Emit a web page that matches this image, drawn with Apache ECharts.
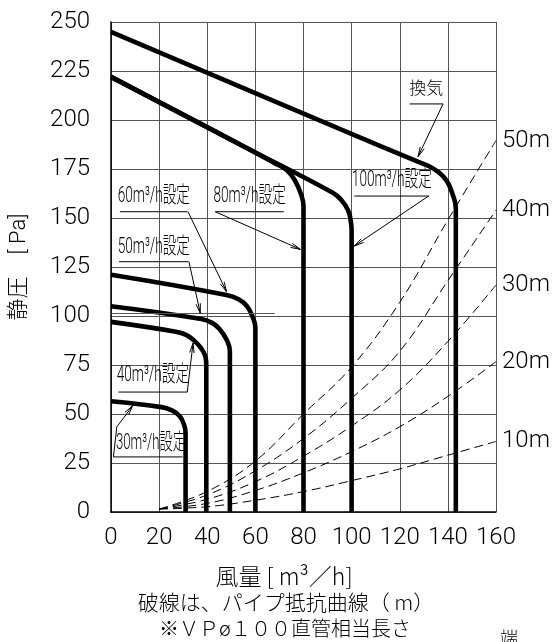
<!DOCTYPE html>
<html>
<head>
<meta charset="utf-8">
<script src="https://cdn.jsdelivr.net/npm/echarts/dist/echarts.min.js"></script>
<style>
html,body{margin:0;padding:0;background:#fff;}
#main{width:553px;height:642px;}
</style>
</head>
<body>
<div id="main"></div>
<script>
// ---------- data ----------
const xTicks = [0, 20, 40, 60, 80, 100, 120, 140, 160];
const yTicks = [0, 25, 50, 75, 100, 125, 150, 175, 200, 225, 250];

// pipe resistance curves (dashed), flow points
const pipeFlow = [20, 40, 60, 80, 100, 120, 140, 160];
const pipeNames = ['10m', '20m', '30m', '40m', '50m'];
const pipe10m = [1.5, 2.7, 6.0, 10.4, 16.0, 22.0, 29.0, 36.0];
const pipe20m = [1.5, 4.4, 11.0, 20.0, 30.8, 43.5, 59.0, 76.7];
const pipe30m = [1.5, 6.5, 15.5, 28.5, 43.9, 62.2, 87.0, 115.8];
const pipe40m = [1.5, 8.7, 21.0, 37.5, 58.0, 82.0, 118.0, 154.0];
const pipe50m = [1.5, 10.5, 26.0, 50.0, 74.0, 107.0, 149.0, 189.5];
const pipeValues = [pipe10m, pipe20m, pipe30m, pipe40m, pipe50m];

// fan curves [flow, static pressure]
const fanVent = [[0,245],[96,195],[127,179],[132,176.5],[136,173.5],[139.5,169],[142,162],[143.3,155],[143.3,0]];
const fan100 = [[0,222],[56,186],[92,163],[95.5,159.5],[98.5,154],[99.8,147],[100,143],[100,0]];
const fan80 = [[0,222],[56,186],[68,178],[73,174.5],[76.5,169],[79,162],[80,156],[80,0]];
const fan60 = [[0,121],[48,110.7],[53,108.5],[56.5,105],[59,99],[60,94],[60,0]];
const fan50 = [[0,105],[37.5,98.5],[42,96.5],[45,93.5],[48,88],[49.4,82],[49.4,0]];
const fan40 = [[0,97],[27,92],[31,90.5],[34.5,87.5],[37.5,83.5],[39.3,79],[39.6,75],[39.6,0]];
const fan30 = [[0,56.5],[21,53.5],[25,52],[28.5,49],[30.5,44],[31,40],[31,0]];
const fanNames = ['換気', '100m³/h設定', '80m³/h設定', '60m³/h設定', '50m³/h設定', '40m³/h設定', '30m³/h設定'];
const fanCurves = [fanVent, fan100, fan80, fan60, fan50, fan40, fan30];

// ---------- layout for annotations (data coordinates) ----------
const annoLayout = [
  {text: fanNames[0], center: [131, 215.3], under: [124.1, 138, 208.2], leader: [[138, 208.2], [127.6, 181.3]], size: 17, sx: 1},
  {text: fanNames[1], center: [116.7, 168.9], under: [101.1, 132.2, 161.2], leader: [[132, 161.2], [101.1, 135.7]], size: 22, sx: 0.62},
  {text: fanNames[2], center: [57.6, 161.2], under: [43.3, 71.8, 153.2], leader: [[43.3, 153.2], [78.7, 134]], size: 22, sx: 0.62},
  {text: fanNames[3], center: [17.8, 161.2], under: [3.7, 31.8, 153.2], leader: [[32, 153.2], [48, 112.4]], size: 22, sx: 0.62},
  {text: fanNames[4], center: [17.8, 134.7], under: [3.3, 32.2, 127.7], leader: [[32.4, 127.7], [37.1, 101.4]], size: 22, sx: 0.62},
  {text: fanNames[5], center: [17.4, 69.4], under: [3.1, 31.7, 61.2], leader: [[31.7, 61.2], [34.1, 86.2]], size: 22, sx: 0.62},
  {text: fanNames[6], center: [16.6, 34.7], under: [1, 29.8, 28.1], leader: [[1, 28.1], [2.4, 43.4], [9, 54.2]], size: 22, sx: 0.6}
];

const numFont = 'Roboto, "Liberation Sans", sans-serif';
const jpFont = '"Noto Sans CJK JP", sans-serif';
const mixFont = 'Roboto, "Noto Sans CJK JP", sans-serif';

const chart = echarts.init(document.getElementById('main'));

const series = [];
pipeNames.forEach((name, i) => {
  series.push({
    name: name,
    type: 'line',
    data: pipeFlow.map((x, j) => [x, pipeValues[i][j]]),
    smooth: 0.4,
    showSymbol: false,
    silent: true,
    z: 3,
    lineStyle: {color: '#000', width: 1, type: [9, 5]},
    endLabel: {
      show: true, formatter: name, color: '#000', distance: 6,
      fontSize: 24, fontFamily: numFont, fontWeight: 300
    }
  });
});
fanCurves.forEach((d, i) => {
  series.push({
    name: fanNames[i],
    type: 'line',
    data: d,
    smooth: 0.45,
    showSymbol: false,
    silent: true,
    z: 4,
    lineStyle: {color: '#000', width: 4.6, cap: 'butt', join: 'round'}
  });
});
// extra thin line near 100 Pa seen in the reference
series.push({
  type: 'line', data: [], silent: true,
  markLine: {
    silent: true, symbol: 'none', label: {show: false},
    lineStyle: {color: '#555', width: 1, type: 'solid'},
    data: [[{coord: [0, 101.6]}, {coord: [68, 101.6]}]]
  }
});

chart.setOption({
  animation: false,
  backgroundColor: '#fff',
  grid: {left: 104, right: 57, top: 22, bottom: 130, containLabel: false},
  xAxis: {
    type: 'value', min: xTicks[0], max: xTicks[xTicks.length - 1], interval: 20,
    axisLine: {show: true, lineStyle: {color: '#000', width: 1.5}},
    axisTick: {show: false},
    axisLabel: {color: '#000', fontSize: 24, fontFamily: numFont, fontWeight: 300, margin: 14},
    splitLine: {show: true, lineStyle: {color: '#555', width: 1}}
  },
  yAxis: {
    type: 'value', min: yTicks[0], max: yTicks[yTicks.length - 1], interval: 25,
    name: '静圧　[ Pa]', nameLocation: 'middle', nameRotate: 90, nameGap: 81,
    nameTextStyle: {color: '#000', fontSize: 22, fontFamily: mixFont, fontWeight: 300},
    axisLine: {show: true, lineStyle: {color: '#000', width: 1.5}},
    axisTick: {show: false},
    axisLabel: {color: '#000', fontSize: 24, fontFamily: numFont, fontWeight: 300, margin: 21},
    splitLine: {show: true, lineStyle: {color: '#555', width: 1}}
  },
  series: series
});

// ---------- annotations ----------
function P(p) { return chart.convertToPixel({gridIndex: 0}, p); }
const g = [];
annoLayout.forEach(a => {
  const c = P(a.center);
  g.push({
    type: 'text', x: c[0], y: c[1], scaleX: a.sx, z: 10,
    style: {text: a.text, x: 0, y: 0, align: 'center', verticalAlign: 'middle',
      fill: '#000', font: '300 ' + a.size + 'px ' + mixFont}
  });
  const u1 = P([a.under[0], a.under[2]]), u2 = P([a.under[1], a.under[2]]);
  g.push({type: 'line', z: 10, shape: {x1: u1[0], y1: u1[1], x2: u2[0], y2: u2[1]},
    style: {stroke: '#000', lineWidth: 1}});
  const pts = a.leader.map(P);
  g.push({type: 'polyline', z: 10, shape: {points: pts}, style: {stroke: '#000', lineWidth: 1, fill: null}});
  const tip = pts[pts.length - 1], prev = pts[pts.length - 2];
  const ang = Math.atan2(tip[1] - prev[1], tip[0] - prev[0]);
  const L = 10, h = 0.22;
  const a1 = [tip[0] - L * Math.cos(ang - h), tip[1] - L * Math.sin(ang - h)];
  const a2 = [tip[0] - L * Math.cos(ang + h), tip[1] - L * Math.sin(ang + h)];
  g.push({type: 'polyline', z: 10, shape: {points: [a1, tip, a2]}, style: {stroke: '#000', lineWidth: 1, fill: null}});
});
// captions under the chart
const captions = [
  {text: '風量 [ m³／h]', x: 284, y: 576, size: 23},
  {text: '破線は、パイプ抵抗曲線（ m）', x: 286, y: 602, size: 21},
  {text: '※ＶＰø１００直管相当長さ', x: 285, y: 628, size: 20}
];
captions.forEach(c => {
  g.push({type: 'text', x: c.x, y: c.y, z: 10,
    style: {text: c.text, x: 0, y: 0, align: 'center', verticalAlign: 'middle',
      fill: '#000', font: '300 ' + c.size + 'px ' + jpFont}});
});
g.push({type: 'text', x: 509, y: 638, z: 10,
  style: {text: '端', x: 0, y: 0, align: 'center', verticalAlign: 'middle', fill: '#000', font: '300 18px ' + jpFont}});
chart.setOption({graphic: g});
</script>
</body>
</html>
